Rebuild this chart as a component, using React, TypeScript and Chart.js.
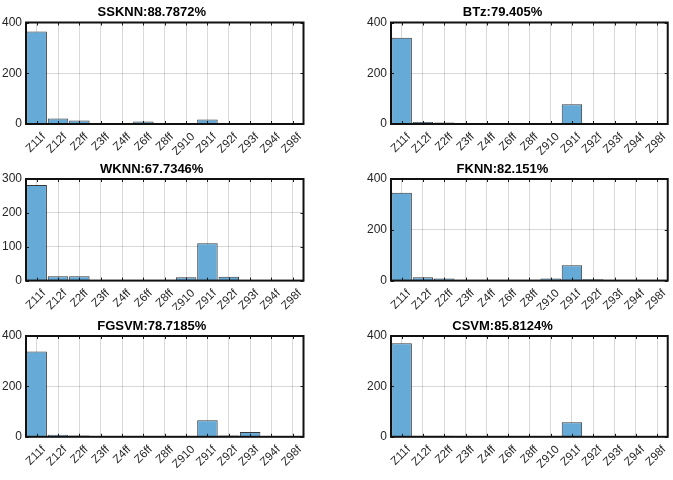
import React, { useEffect, useRef } from "react";
import { Chart, registerables } from "chart.js";

Chart.register(...registerables);

const categories = ["Z11f", "Z12f", "Z2ff", "Z3ff", "Z4ff", "Z6ff", "Z8ff", "Z910", "Z91f", "Z92f", "Z93f", "Z94f", "Z98f"];

const titles = ["SSKNN:88.7872%", "BTz:79.405%", "WKNN:67.7346%", "FKNN:82.151%", "FGSVM:78.7185%", "CSVM:85.8124%"];

const ssknn = [365, 22, 14, 0, 0, 10, 0, 4, 18, 3, 3, 0, 0];
const btz = [340, 8, 6, 0, 0, 0, 0, 3, 78, 3, 0, 0, 0];
const wknn = [282, 13, 13, 0, 0, 0, 0, 10, 110, 11, 0, 0, 0];
const fknn = [346, 13, 8, 0, 0, 0, 0, 8, 60, 5, 0, 0, 0];
const fgsvm = [338, 8, 5, 0, 0, 0, 0, 0, 66, 5, 19, 0, 0];
const csvm = [371, 4, 4, 0, 0, 0, 0, 0, 58, 0, 0, 0, 0];

const seriesList = [ssknn, btz, wknn, fknn, fgsvm, csvm];
const yMaxes = [400, 400, 300, 400, 400, 400];
const ySteps = [200, 200, 100, 200, 200, 200];

const FONT = "'Liberation Sans', Arial, Helvetica, sans-serif";
const TITLE_SIZE = 13;
const TITLE_H = TITLE_SIZE * 1.2 + 4;

const cols = [
  { x: 0, w: 336, plotL: 26, plotR: 303.5 },
  { x: 336, w: 337, plotL: 391, plotR: 669 },
];
const rows = [
  { y: 0, h: 155, plotT: 22.5, plotB: 124 },
  { y: 155, h: 155, plotT: 179, plotB: 280.6 },
  { y: 310, h: 170, plotT: 336, plotB: 436.8 },
];

const boxPlugin = {
  id: "boxPlugin",
  afterDraw(chart: any) {
    const { ctx, chartArea } = chart;
    const { left, right, top, bottom } = chartArea;
    ctx.save();
    ctx.strokeStyle = "#1a1a1a";
    ctx.lineWidth = 1;
    const xs = chart.scales.x;
    const ys = chart.scales.y;
    ctx.beginPath();
    xs.ticks.forEach((_t: any, i: number) => {
      const px = Math.round(xs.getPixelForTick(i)) + 0.5;
      ctx.moveTo(px, bottom);
      ctx.lineTo(px, bottom - 3);
      ctx.moveTo(px, top);
      ctx.lineTo(px, top + 3);
    });
    ys.ticks.forEach((_t: any, i: number) => {
      const py = Math.round(ys.getPixelForTick(i)) + 0.5;
      ctx.moveTo(left, py);
      ctx.lineTo(left + 3, py);
      ctx.moveTo(right, py);
      ctx.lineTo(right - 3, py);
    });
    ctx.stroke();
    ctx.lineWidth = 2;
    ctx.strokeStyle = "#111";
    ctx.strokeRect(left, top, right - left, bottom - top);
    ctx.restore();
  },
};

function Panel({ idx }: { idx: number }) {
  const ref = useRef<HTMLCanvasElement>(null);
  const col = cols[idx % 2];
  const row = rows[Math.floor(idx / 2)];
  useEffect(() => {
    if (!ref.current) return;
    const chart = new Chart(ref.current, {
      type: "bar",
      data: {
        labels: categories,
        datasets: [
          {
            data: seriesList[idx],
            backgroundColor: "rgb(102,170,215)",
            borderColor: "rgba(20,20,20,0.85)",
            borderWidth: 1,
            barPercentage: 0.96,
            categoryPercentage: 1,
          },
        ],
      },
      options: {
        responsive: false,
        maintainAspectRatio: false,
        animation: false,
        devicePixelRatio: 1,
        layout: {
          padding: {
            left: 0,
            right: col.x + col.w - col.plotR,
            top: row.plotT - row.y - TITLE_H,
            bottom: 0,
          },
        },
        plugins: {
          legend: { display: false },
          tooltip: { enabled: false },
          title: {
            display: true,
            text: titles[idx],
            color: "#000",
            font: { family: FONT, size: TITLE_SIZE, weight: "bold" },
            padding: { top: 2, bottom: 2 },
          },
        },
        scales: {
          x: {
            type: "category",
            offset: true,
            grid: {
              offset: false,
              color: "rgba(0,0,0,0.15)",
              drawTicks: false,
            },
            border: { display: false },
            ticks: {
              autoSkip: false,
              maxRotation: 45,
              minRotation: 45,
              padding: 6,
              labelOffset: 7,
              color: "#262626",
              font: { family: FONT, size: 11.5 },
            },
            afterFit(scale: any) {
              scale.height = row.y + row.h - row.plotB;
            },
          },
          y: {
            min: 0,
            max: yMaxes[idx],
            grid: { color: "rgba(0,0,0,0.15)", drawTicks: false },
            border: { display: false },
            ticks: {
              stepSize: ySteps[idx],
              padding: 4,
              color: "#262626",
              font: { family: FONT, size: 12 },
            },
            afterFit(scale: any) {
              scale.width = col.plotL - col.x;
            },
          },
        },
      },
      plugins: [boxPlugin],
    });
    return () => chart.destroy();
  }, [idx]);
  return (
    <canvas
      ref={ref}
      width={col.w}
      height={row.h}
      style={{ position: "absolute", left: col.x, top: row.y, width: col.w, height: row.h }}
    />
  );
}

export default function App() {
  return (
    <div style={{ position: "absolute", left: 0, top: 0, width: 673, height: 480, background: "#fff" }}>
      {titles.map((_t, i) => (
        <Panel key={i} idx={i} />
      ))}
    </div>
  );
}
